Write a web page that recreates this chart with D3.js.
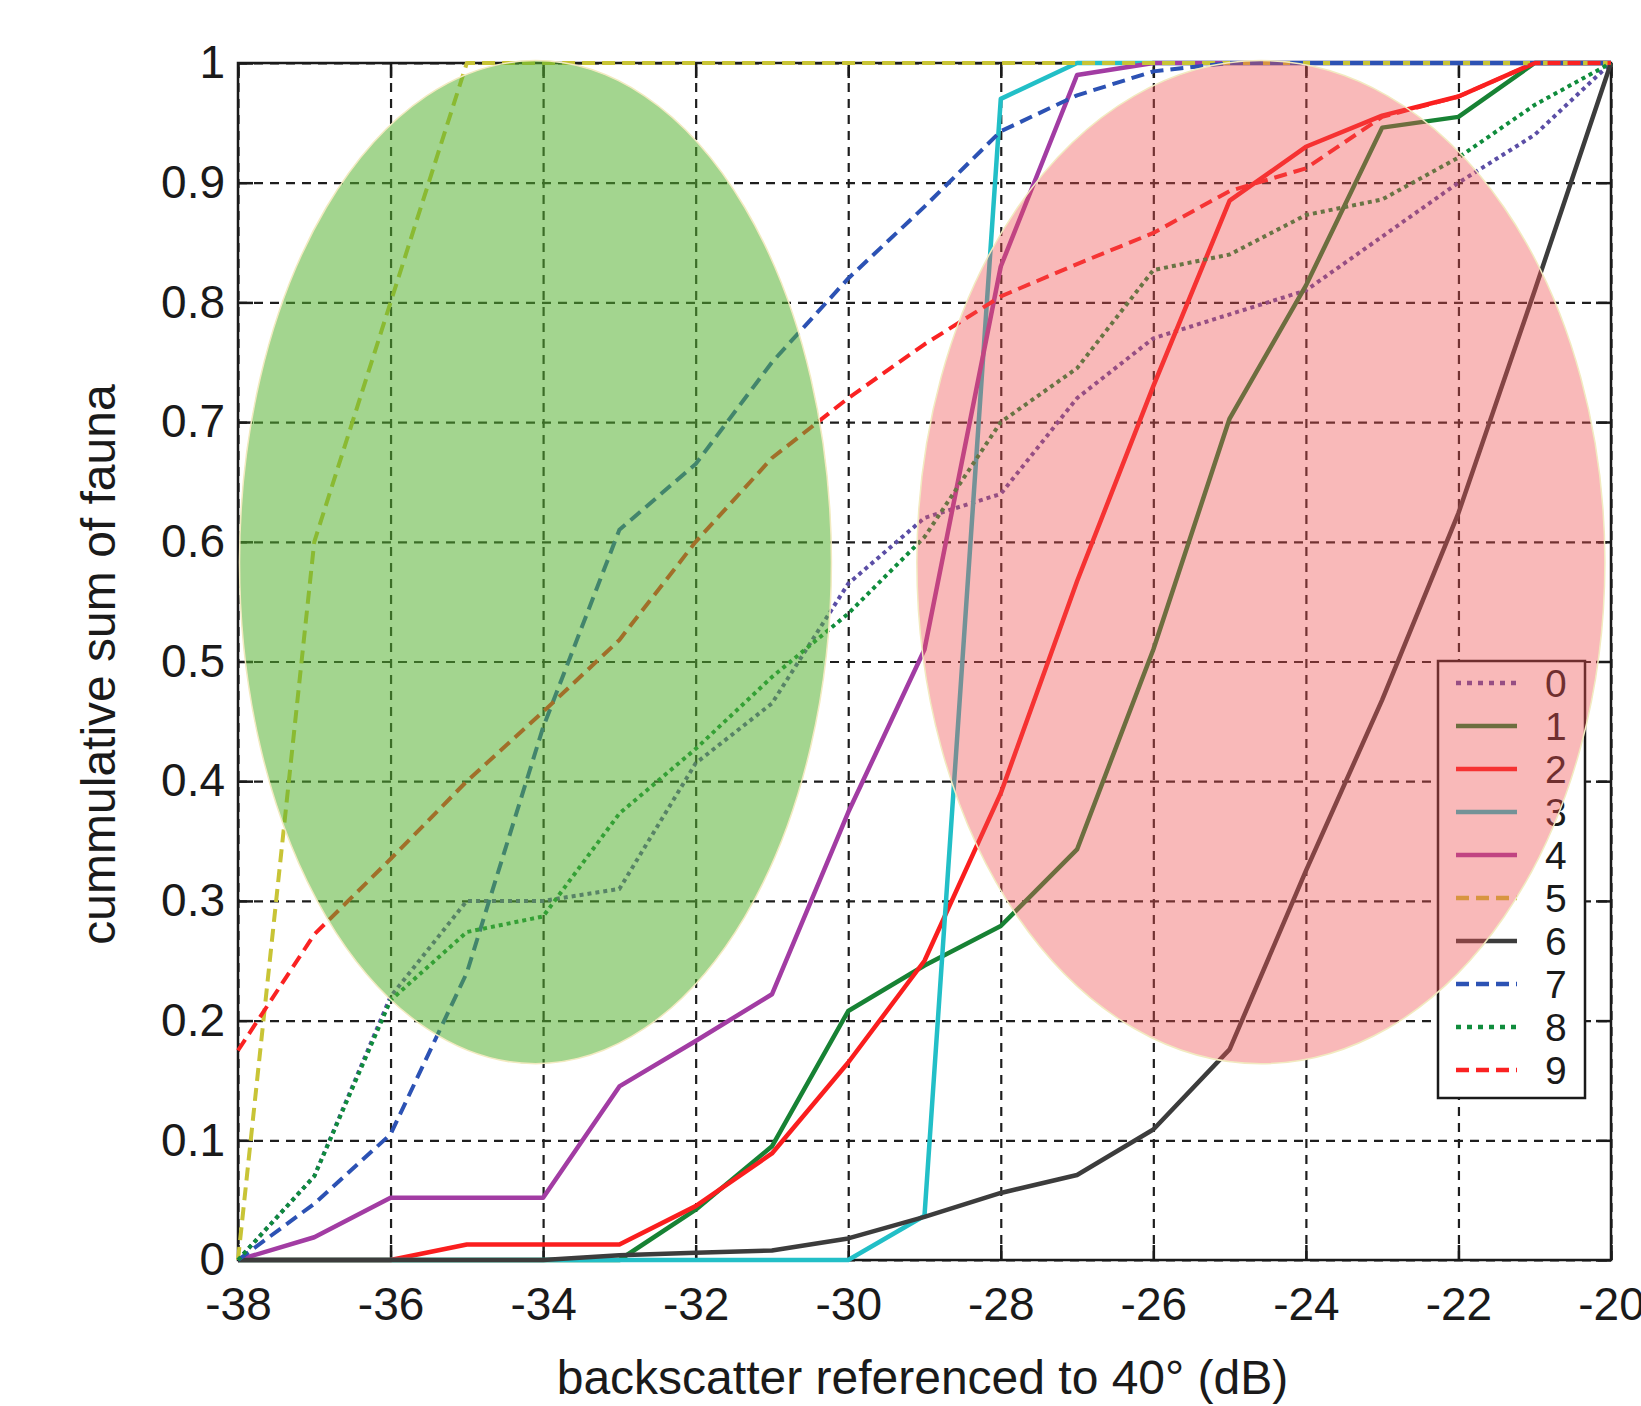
<!DOCTYPE html>
<html>
<meta charset=utf-8>
<title>cummulative sum of fauna</title>
<style>
  body { margin: 0; background: #fff; }
  svg text { font-family: "Liberation Sans", Arial, sans-serif; fill: #1a1a1a; }
</style>
<body>
<svg id=chart width=1641 height=1406></svg>
<script src="https://cdn.jsdelivr.net/npm/d3@7"></script>
<script>
// backscatter bins (dB)
var xs = [-38, -37, -36, -35, -34, -33, -32, -31, -30, -29, -28, -27, -26, -25, -24, -23, -22, -21, -20];

// cumulative sum of fauna per class, one value per bin
var s0 = [0, 0.07, 0.22, 0.30, 0.30, 0.31, 0.415, 0.465, 0.565, 0.62, 0.64, 0.72, 0.77, 0.79, 0.81, 0.855, 0.90, 0.94, 1.0];
var s1 = [0, 0, 0, 0, 0, 0, 0.042, 0.095, 0.208, 0.246, 0.279, 0.343, 0.51, 0.703, 0.814, 0.946, 0.955, 1.0, 1.0];
var s2 = [0, 0, 0, 0.013, 0.013, 0.013, 0.045, 0.089, 0.165, 0.25, 0.39, 0.567, 0.73, 0.885, 0.93, 0.956, 0.972, 1.0, 1.0];
var s3 = [0, 0, 0, 0, 0, 0, 0, 0, 0, 0.037, 0.97, 1.0, 1.0, 1.0, 1.0, 1.0, 1.0, 1.0, 1.0];
var s4 = [0, 0.019, 0.052, 0.052, 0.052, 0.145, 0.183, 0.222, 0.374, 0.51, 0.83, 0.99, 1.0, 1.0, 1.0, 1.0, 1.0, 1.0, 1.0];
var s5 = [0, 0.6, 0.8, 1.0, 1.0, 1.0, 1.0, 1.0, 1.0, 1.0, 1.0, 1.0, 1.0, 1.0, 1.0, 1.0, 1.0, 1.0, 1.0];
var s6 = [0, 0, 0, 0, 0, 0.004, 0.006, 0.008, 0.018, 0.036, 0.056, 0.071, 0.109, 0.176, 0.325, 0.468, 0.624, 0.81, 1.0];
var s7 = [0, 0.047, 0.105, 0.24, 0.445, 0.61, 0.665, 0.75, 0.82, 0.88, 0.943, 0.973, 0.993, 1.0, 1.0, 1.0, 1.0, 1.0, 1.0];
var s8 = [0, 0.07, 0.217, 0.274, 0.287, 0.373, 0.427, 0.487, 0.54, 0.604, 0.70, 0.745, 0.827, 0.84, 0.873, 0.886, 0.921, 0.965, 1.0];
var s9 = [0.175, 0.272, 0.335, 0.40, 0.458, 0.518, 0.60, 0.67, 0.72, 0.765, 0.805, 0.832, 0.858, 0.893, 0.912, 0.955, 0.972, 1.0, 1.0];

var seriesNames = ["0", "1", "2", "3", "4", "5", "6", "7", "8", "9"];
var seriesValues = [s0, s1, s2, s3, s4, s5, s6, s7, s8, s9];
var seriesColors = ["#5b4ea6", "#178234", "#fa1e1e", "#22bfc7", "#a23ca3", "#c8c436", "#3c3c3c", "#2c52b4", "#0f8c3c", "#fa2222"];
var seriesStyles = ["dot", "solid", "solid", "solid", "solid", "dash", "solid", "dash", "dot", "dash"];

var xTicks = [-38, -36, -34, -32, -30, -28, -26, -24, -22, -20];
var xTickLabels = ["-38", "-36", "-34", "-32", "-30", "-28", "-26", "-24", "-22", "-20"];
var yTicks = [0, 0.1, 0.2, 0.3, 0.4, 0.5, 0.6, 0.7, 0.8, 0.9, 1];
var yTickLabels = ["0", "0.1", "0.2", "0.3", "0.4", "0.5", "0.6", "0.7", "0.8", "0.9", "1"];

// highlighted regions (centre and half-axes in data units)
var zoneNames = ["green", "red"];
var zoneCx = [-34.10, -24.59];
var zoneCy = [0.583, 0.583];
var zoneRx = [3.88, 4.51];
var zoneRy = [0.419, 0.419];

var svg = d3.select("#chart");
var pLeft = 238, pRight = 1611, pTop = 63, pBottom = 1260;

var x = d3.scaleLinear().domain([-38, -20]).range([pLeft, pRight]);
var y = d3.scaleLinear().domain([0, 1]).range([pBottom, pTop]);

// grid
var grid = svg.append("g").attr("class", "grid");
grid.append("g").attr("transform", "translate(0," + pBottom + ")")
    .call(d3.axisBottom(x).tickValues(xTicks).tickSize(-(pBottom - pTop)).tickFormat(""));
grid.append("g").attr("transform", "translate(" + pLeft + ",0)")
    .call(d3.axisLeft(y).tickValues(yTicks).tickSize(-(pRight - pLeft)).tickFormat(""));
grid.selectAll(".domain").remove();
grid.selectAll("line").attr("stroke", "#1e1e1e").attr("stroke-width", 2.2).attr("stroke-dasharray", "9,7");

// frame and inward ticks
var ticks = svg.append("g");
ticks.append("g").attr("transform", "translate(0," + pBottom + ")")
    .call(d3.axisBottom(x).tickValues(xTicks).tickSize(-15).tickFormat(""));
ticks.append("g").attr("transform", "translate(0," + pTop + ")")
    .call(d3.axisTop(x).tickValues(xTicks).tickSize(-15).tickFormat(""));
ticks.append("g").attr("transform", "translate(" + pLeft + ",0)")
    .call(d3.axisLeft(y).tickValues(yTicks).tickSize(-15).tickFormat(""));
ticks.append("g").attr("transform", "translate(" + pRight + ",0)")
    .call(d3.axisRight(y).tickValues(yTicks).tickSize(-15).tickFormat(""));
ticks.selectAll(".domain").remove();
ticks.selectAll("line").attr("stroke", "#1a1a1a").attr("stroke-width", 2.5);

svg.append("rect")
    .attr("x", pLeft).attr("y", pTop)
    .attr("width", pRight - pLeft).attr("height", pBottom - pTop)
    .attr("fill", "none").attr("stroke", "#1a1a1a").attr("stroke-width", 2.5);

// tick labels
var xl = svg.append("g").attr("transform", "translate(0," + pBottom + ")")
    .call(d3.axisBottom(x).tickValues(xTicks).tickSize(0).tickPadding(27)
        .tickFormat(function (d, i) { return xTickLabels[i]; }));
var yl = svg.append("g").attr("transform", "translate(" + pLeft + ",0)")
    .call(d3.axisLeft(y).tickValues(yTicks).tickSize(0).tickPadding(13)
        .tickFormat(function (d, i) { return yTickLabels[i]; }));
xl.select(".domain").remove();
yl.select(".domain").remove();
svg.selectAll(".tick text").attr("font-size", 46).attr("fill", "#1a1a1a")
    .attr("font-family", "'Liberation Sans', Arial, sans-serif");

// axis titles
svg.append("text")
    .attr("x", (pLeft + pRight) / 2 - 2).attr("y", 1394)
    .attr("text-anchor", "middle").attr("font-size", 48)
    .text("backscatter referenced to 40° (dB)");
svg.append("text")
    .attr("transform", "translate(115," + ((pTop + pBottom) / 2 + 3) + ") rotate(-90)")
    .attr("text-anchor", "middle").attr("font-size", 48)
    .text("cummulative sum of fauna");

function dashFor(style) {
    if (style == "dot") return "4,4";
    if (style == "dash") return "13,7";
    return null;
}

// series lines
var line = d3.line()
    .x(function (d, i) { return x(xs[i]); })
    .y(function (d) { return y(d); });

svg.append("g").selectAll("path")
    .data(seriesValues)
    .join("path")
    .attr("d", line)
    .attr("fill", "none")
    .attr("stroke", function (d, i) { return seriesColors[i]; })
    .attr("stroke-width", function (d, i) { return seriesStyles[i] == "solid" ? 4.5 : 4; })
    .attr("stroke-dasharray", function (d, i) { return dashFor(seriesStyles[i]); })
    .attr("stroke-linejoin", "round");

// legend
var lg = svg.append("g");
lg.append("rect")
    .attr("x", 1438).attr("y", 661).attr("width", 147).attr("height", 437)
    .attr("fill", "#fff").attr("stroke", "#1a1a1a").attr("stroke-width", 2.5);
var row = lg.selectAll("g.row").data(seriesNames).join("g")
    .attr("class", "row")
    .attr("transform", function (d, i) { return "translate(0," + (683 + i * 43) + ")"; });
row.append("line")
    .attr("x1", 1456).attr("x2", 1517)
    .attr("stroke", function (d, i) { return seriesColors[i]; })
    .attr("stroke-width", 4.5)
    .attr("stroke-dasharray", function (d, i) { return seriesStyles[i] == "dot" ? "5,6" : dashFor(seriesStyles[i]); });
row.append("text")
    .attr("x", 1545).attr("dy", "0.36em")
    .attr("font-size", 39)
    .text(function (d) { return d; });

// shaded regions over everything
var zoneFill = ["rgb(85,177,48)", "rgb(240,80,80)"];
var zoneOpacity = [0.54, 0.4];
svg.append("g").selectAll("ellipse")
    .data(zoneNames)
    .join("ellipse")
    .attr("cx", function (d, i) { return x(zoneCx[i]); })
    .attr("cy", function (d, i) { return y(zoneCy[i]); })
    .attr("rx", function (d, i) { return x(zoneCx[i] + zoneRx[i]) - x(zoneCx[i]); })
    .attr("ry", function (d, i) { return y(0) - y(zoneRy[i]); })
    .attr("fill", function (d, i) { return zoneFill[i]; })
    .attr("fill-opacity", function (d, i) { return zoneOpacity[i]; })
    .attr("stroke", "#f2eac0")
    .attr("stroke-width", 1.5);
</script>
</body>
</html>
